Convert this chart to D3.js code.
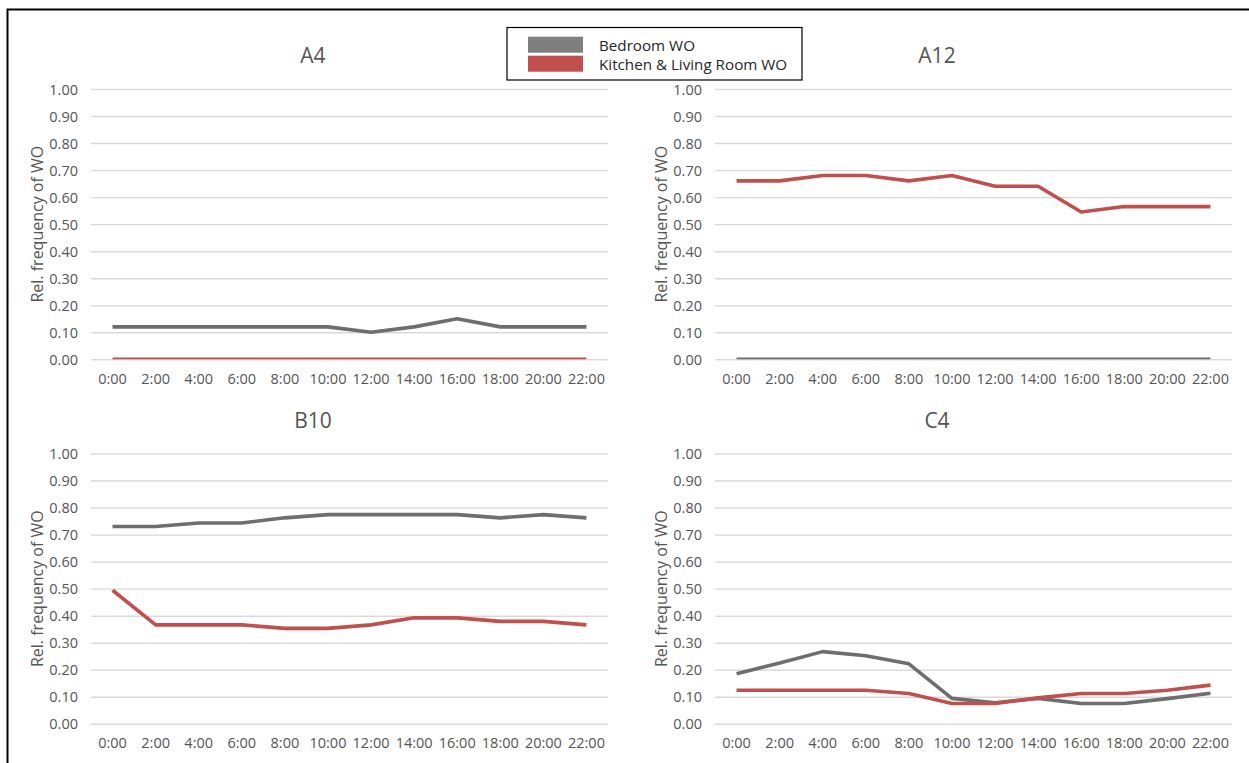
<!DOCTYPE html>
<html>
<head>
<meta charset="utf-8">
<script src="https://cdn.jsdelivr.net/npm/d3@7"></script>
<style>
  html, body { margin: 0; padding: 0; background: #fff; }
  svg { display: block; }
  text { font-family: "Open Sans", "Liberation Sans", sans-serif; }
</style>
</head>
<body>
<svg id="chart" width="1249" height="763"></svg>
<script>
// Hours of the day (category axis)
const hours = ["0:00","2:00","4:00","6:00","8:00","10:00","12:00","14:00","16:00","18:00","20:00","22:00"];
const yTicks = [0, 0.1, 0.2, 0.3, 0.4, 0.5, 0.6, 0.7, 0.8, 0.9, 1.0];
const seriesNames = ["Bedroom WO", "Kitchen & Living Room WO"];
const panelTitles = ["A4", "A12", "B10", "C4"];

// Relative frequency of window opening, per dwelling
const a4Bedroom  = [0.12, 0.12, 0.12, 0.12, 0.12, 0.12, 0.10, 0.12, 0.15, 0.12, 0.12, 0.12];
const a4Kitchen  = [0, 0, 0, 0, 0, 0, 0, 0, 0, 0, 0, 0];
const a12Bedroom = [0, 0, 0, 0, 0, 0, 0, 0, 0, 0, 0, 0];
const a12Kitchen = [0.66, 0.66, 0.68, 0.68, 0.66, 0.68, 0.64, 0.64, 0.545, 0.565, 0.565, 0.565];
const b10Bedroom = [0.73, 0.73, 0.743, 0.743, 0.762, 0.774, 0.774, 0.774, 0.774, 0.762, 0.774, 0.762];
const b10Kitchen = [0.494, 0.366, 0.366, 0.366, 0.353, 0.353, 0.366, 0.392, 0.392, 0.379, 0.379, 0.366];
const c4Bedroom  = [0.185, 0.225, 0.267, 0.252, 0.222, 0.094, 0.078, 0.094, 0.075, 0.075, 0.093, 0.113];
const c4Kitchen  = [0.124, 0.124, 0.124, 0.124, 0.112, 0.075, 0.075, 0.096, 0.112, 0.112, 0.124, 0.143];

const seriesColors = ["#6e6e6e", "#c0504d"];
const swatchColors = ["#7f7f7f", "#c0504d"];

const panels = [
  { title: panelTitles[0], series: [a4Bedroom, a4Kitchen],   ox: 0,   oy: 0 },
  { title: panelTitles[1], series: [a12Bedroom, a12Kitchen], ox: 624, oy: 0 },
  { title: panelTitles[2], series: [b10Bedroom, b10Kitchen], ox: 0,   oy: 364.5 },
  { title: panelTitles[3], series: [c4Bedroom, c4Kitchen],   ox: 624, oy: 364.5 }
];

const svg = d3.select("#chart");

// Outer frame (left and top edges)
svg.append("path")
  .attr("d", "M7.5,770 L7.5,9.5 L1260,9.5")
  .attr("fill", "none")
  .attr("stroke", "#000")
  .attr("stroke-width", 2);

const plotLeft = 91, plotRight = 608, plotTop = 89, plotBottom = 359.3;
const textColor = "#555555";

panels.forEach((p, i) => {
  const g = svg.append("g").attr("transform", `translate(${p.ox},${p.oy})`);

  const x = d3.scaleBand().domain(hours).range([plotLeft, plotRight]).padding(0);
  const y = d3.scaleLinear().domain([0, 1]).range([plotBottom, plotTop]);
  const cx = h => x(h) + x.bandwidth() / 2;

  // Horizontal gridlines + value labels
  const yAxis = d3.axisLeft(y)
    .tickValues(yTicks)
    .tickFormat(d3.format(".2f"))
    .tickSize(-(plotRight - plotLeft))
    .tickPadding(13);
  const ya = g.append("g").attr("transform", `translate(${plotLeft},0)`).call(yAxis);
  ya.select(".domain").remove();
  ya.selectAll(".tick line").attr("stroke", "#d9d9d9").attr("stroke-width", 1.4);
  ya.selectAll(".tick text")
    .attr("fill", textColor)
    .style("font-size", "14.5px")
    .attr("dy", "0.35em");

  // Hour labels
  const xAxis = d3.axisBottom(x).tickSize(0).tickPadding(14);
  const xa = g.append("g").attr("transform", `translate(0,${plotBottom})`).call(xAxis);
  xa.select(".domain").remove();
  xa.selectAll(".tick text")
    .attr("fill", textColor)
    .style("font-size", "14.5px");

  // Panel title
  g.append("text")
    .attr("x", 313)
    .attr("y", 55)
    .attr("text-anchor", "middle")
    .attr("dominant-baseline", "central")
    .attr("fill", textColor)
    .style("font-size", "21px")
    .text(p.title);

  // Y-axis title
  g.append("text")
    .attr("transform", `translate(37,${(plotTop + plotBottom) / 2}) rotate(-90)`)
    .attr("text-anchor", "middle")
    .attr("dominant-baseline", "central")
    .attr("fill", textColor)
    .style("font-size", "16px")
    .text("Rel. frequency of WO");

  // Clip lines to the plot area
  const clipId = "clip" + i;
  g.append("clipPath").attr("id", clipId)
    .append("rect")
    .attr("x", plotLeft).attr("y", plotTop - 5)
    .attr("width", plotRight - plotLeft).attr("height", plotBottom - plotTop + 5);

  const line = d3.line()
    .x((d, j) => cx(hours[j]))
    .y(d => y(d));

  p.series.forEach((vals, s) => {
    g.append("path")
      .datum(vals)
      .attr("clip-path", `url(#${clipId})`)
      .attr("d", line)
      .attr("fill", "none")
      .attr("stroke", seriesColors[s])
      .attr("stroke-width", 3.6)
      .attr("stroke-linejoin", "round")
      .attr("stroke-linecap", "butt");
  });
});

// Legend
const legend = svg.append("g");
legend.append("rect")
  .attr("x", 507).attr("y", 27.5)
  .attr("width", 295).attr("height", 52.5)
  .attr("fill", "#fff")
  .attr("stroke", "#000")
  .attr("stroke-width", 1.2);
seriesNames.forEach((name, s) => {
  const yTop = 36.7 + s * 19;
  legend.append("rect")
    .attr("x", 528).attr("y", yTop)
    .attr("width", 55).attr("height", 16)
    .attr("fill", swatchColors[s]);
  legend.append("text")
    .attr("x", 599).attr("y", yTop + 8.5)
    .attr("dominant-baseline", "central")
    .attr("fill", "#262626")
    .style("font-size", "15.2px")
    .text(name);
});
</script>
</body>
</html>
